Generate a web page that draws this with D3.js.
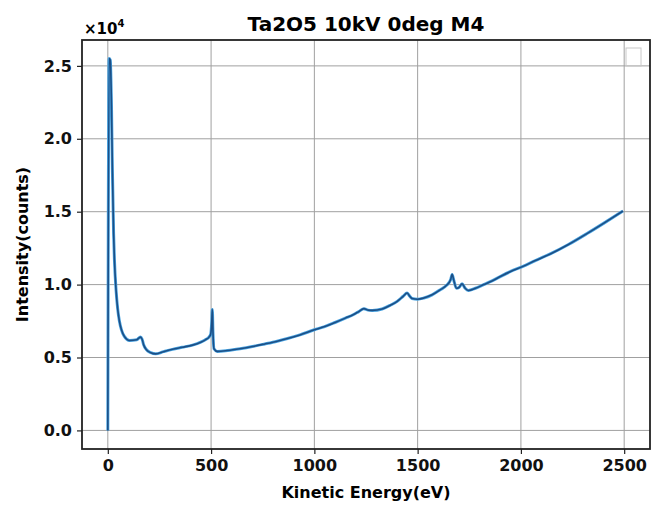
<!DOCTYPE html>
<html>
<head>
<meta charset="utf-8">
<script src="https://cdn.jsdelivr.net/npm/d3@7"></script>
<style>
  body { margin: 0; background: #fff; }
  svg { display: block; font-family: "DejaVu Sans", sans-serif; }
</style>
</head>
<body>
<svg id="chart" width="653" height="505"></svg>
<script>
// Spectrum (kinetic energy in eV, intensity in counts)
const energy = [0, 6, 12, 18, 22, 28, 32, 40, 48, 56, 66, 80, 105, 140, 158, 166, 174, 186, 208, 232, 270, 313, 360, 410, 450, 474, 490, 498, 503, 506, 509, 514, 530, 580, 640, 700, 760, 820, 870, 930, 1000, 1050, 1100, 1150, 1190, 1215, 1240, 1260, 1280, 1328, 1370, 1401, 1430, 1449, 1462, 1473, 1500, 1530, 1570, 1610, 1640, 1660, 1667, 1675, 1688, 1700, 1715, 1730, 1745, 1780, 1820, 1860, 1900, 1950, 2010, 2070, 2142, 2230, 2320, 2400, 2494]
const counts = [0, 25500, 25400, 22000, 18000, 13500, 11700, 9600, 8300, 7500, 6900, 6450, 6170, 6220, 6400, 6250, 5850, 5550, 5330, 5250, 5400, 5560, 5700, 5850, 6050, 6230, 6400, 6600, 7400, 8300, 6800, 5600, 5420, 5480, 5600, 5750, 5930, 6120, 6300, 6550, 6900, 7120, 7400, 7700, 7950, 8150, 8350, 8250, 8230, 8330, 8600, 8850, 9200, 9420, 9200, 9050, 9000, 9080, 9300, 9650, 9950, 10350, 10700, 10300, 9750, 9800, 10050, 9750, 9600, 9750, 10000, 10250, 10550, 10900, 11250, 11650, 12100, 12750, 13500, 14200, 15050]

const xTicks = [0, 500, 1000, 1500, 2000, 2500]
const yTicks = [0, 5000, 10000, 15000, 20000, 25000]

const data = energy.map(function (e, i) { return { e: e, c: counts[i] } })

const margin = { top: 40, left: 82, right: 3, bottom: 56 }
const svg = d3.select('#chart')
const width = 653 - margin.left - margin.right
const height = 505 - margin.top - margin.bottom

// matplotlib-style 5% padding around the data range
const x = d3.scaleLinear().domain([-125, 2625]).range([0, width])
const y = d3.scaleLinear().domain([-1275, 26775]).range([height, 0])

const g = svg.append('g')
  .attr('transform', `translate(${margin.left},${margin.top})`)

// Grid
g.append('g').selectAll('line')
  .data(xTicks)
  .enter().append('line')
  .attr('x1', d => x(d)).attr('x2', d => x(d))
  .attr('y1', 0).attr('y2', height)
  .attr('stroke', '#a0a0a0').attr('stroke-width', 1)

g.append('g').selectAll('line')
  .data(yTicks)
  .enter().append('line')
  .attr('y1', d => y(d)).attr('y2', d => y(d))
  .attr('x1', 0).attr('x2', width)
  .attr('stroke', '#a0a0a0').attr('stroke-width', 1)

// Axes
const xAxis = g.append('g')
  .attr('transform', `translate(0,${height})`)
  .call(d3.axisBottom(x).tickValues(xTicks).tickSize(5).tickPadding(6).tickFormat(d3.format('d')))
const yAxis = g.append('g')
  .call(d3.axisLeft(y).tickValues(yTicks).tickSize(5).tickPadding(5).tickFormat(d => (d / 1e4).toFixed(1)))

;[xAxis, yAxis].forEach(function (a) {
  a.select('.domain').remove()
  a.selectAll('line').attr('stroke', '#222').attr('stroke-width', 1.2)
  a.selectAll('text')
    .attr('fill', '#111')
    .style('font-size', '16px')
    .style('font-weight', 'bold')
    .style('font-family', '"DejaVu Sans", sans-serif')
})

// Spectrum line: light blue halo under a darker core
const line = d3.line()
  .curve(d3.curveMonotoneX)
  .x(d => x(d.e))
  .y(d => y(d.c))

g.append('path')
  .datum(data)
  .attr('fill', 'none')
  .attr('stroke', '#4aa3e0')
  .attr('stroke-width', 3)
  .attr('stroke-linejoin', 'round')
  .attr('d', line)

g.append('path')
  .datum(data)
  .attr('fill', 'none')
  .attr('stroke', '#1c4f86')
  .attr('stroke-width', 1.6)
  .attr('stroke-linejoin', 'round')
  .attr('d', line)

// Frame
g.append('rect')
  .attr('width', width).attr('height', height)
  .attr('fill', 'none')
  .attr('stroke', '#222').attr('stroke-width', 1.8)

// Faint empty legend box in the corner
g.append('rect')
  .attr('x', width - 24).attr('y', 8)
  .attr('width', 15).attr('height', 18)
  .attr('fill', 'none')
  .attr('stroke', '#c8c8c8').attr('stroke-width', 1)

// Title and labels
svg.append('text')
  .attr('x', margin.left + width / 2).attr('y', 31)
  .attr('text-anchor', 'middle')
  .style('font-size', '20px').style('font-weight', 'bold')
  .text('Ta2O5 10kV 0deg M4')

const off = svg.append('text')
  .attr('x', 84).attr('y', 34)
  .style('font-size', '15px').style('font-weight', 'bold')
off.append('tspan').text('×10')
off.append('tspan').attr('dy', -7).style('font-size', '10px').text('4')

svg.append('text')
  .attr('x', margin.left + width / 2).attr('y', 498)
  .attr('text-anchor', 'middle')
  .style('font-size', '16px').style('font-weight', 'bold')
  .text('Kinetic Energy(eV)')

svg.append('text')
  .attr('transform', `translate(28,${margin.top + height / 2}) rotate(-90)`)
  .attr('text-anchor', 'middle')
  .style('font-size', '16px').style('font-weight', 'bold')
  .text('Intensity(counts)')
</script>
</body>
</html>
